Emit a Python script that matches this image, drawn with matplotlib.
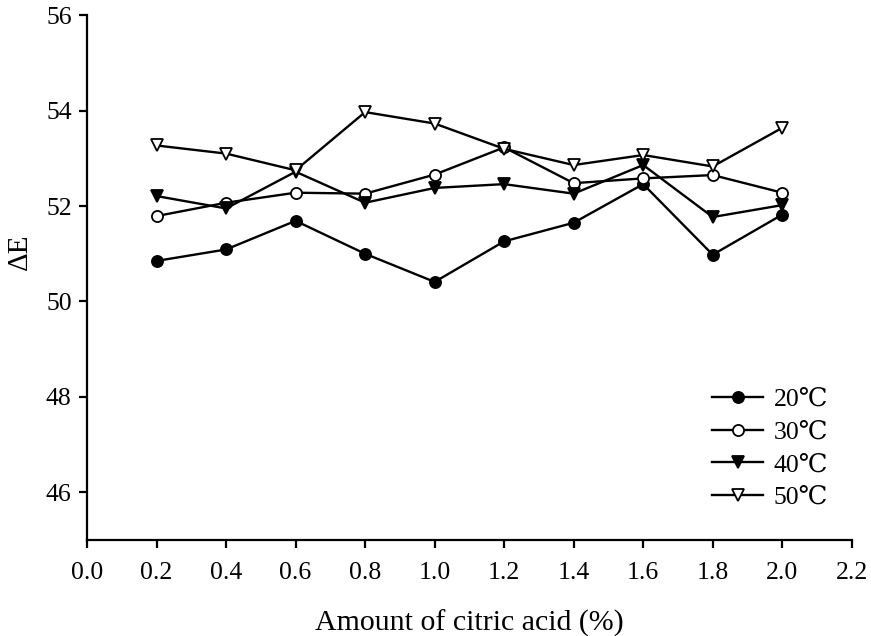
import matplotlib
matplotlib.use("Agg")
import matplotlib.pyplot as plt

plt.rcParams['font.family'] = ['Liberation Serif', 'DejaVu Serif', 'Noto Sans CJK SC']

# citric acid dosage (%) and colour difference at each temperature
acid = [0.2, 0.4, 0.6, 0.8, 1.0, 1.2, 1.4, 1.6, 1.8, 2.0]
de_20 = [50.85, 51.09, 51.69, 51.00, 50.41, 51.26, 51.65, 52.46, 50.98, 51.82]
de_30 = [51.79, 52.07, 52.28, 52.26, 52.66, 53.23, 52.48, 52.58, 52.65, 52.28]
de_40 = [52.21, 51.95, 52.72, 52.07, 52.38, 52.46, 52.26, 52.86, 51.77, 52.02]
de_50 = [53.27, 53.10, 52.75, 53.97, 53.73, 53.20, 52.86, 53.07, 52.83, 53.64]

labels = ['20\u2103', '30\u2103', '40\u2103', '50\u2103']
xticks = [0.0, 0.2, 0.4, 0.6, 0.8, 1.0, 1.2, 1.4, 1.6, 1.8, 2.0, 2.2]
yticks = [46, 48, 50, 52, 54, 56]

fig = plt.figure(figsize=(8.71, 6.36), dpi=100)
ax = fig.add_axes([0.0999, 0.151, 0.878, 0.825])

series = [de_20, de_30, de_40, de_50]
markers = ['o', 'o', 'v', 'v']
faces = ['black', 'white', 'black', 'white']
for vals, m, fc, lab in zip(series, markers, faces, labels):
    ax.plot(acid, vals, color='black', lw=1.7, marker=m, ms=8,
            mfc=fc, mec='black', mew=1.3, label=lab)

ax.set_xlim(0, 2.2)
ax.set_ylim(45, 56)
ax.set_xticks(xticks)
ax.set_xticklabels(['%.1f' % t for t in xticks])
ax.set_yticks(yticks)
ax.spines['top'].set_visible(False)
ax.spines['right'].set_visible(False)
ax.spines['left'].set_linewidth(1.6)
ax.spines['bottom'].set_linewidth(1.6)
ax.tick_params(direction='out', length=6, width=1.6, labelsize=18.5)
ax.tick_params(axis='x', pad=10)
ax.tick_params(axis='y', pad=5)

ax.set_xlabel('Amount of citric acid (%)', fontsize=21.5)
ax.xaxis.set_label_coords(0.5, -0.133)
ax.set_ylabel('\u0394E', fontsize=21)
ax.yaxis.set_label_coords(-0.071, 0.55)

ax.legend(loc='center', bbox_to_anchor=(0.884, 0.295),
          bbox_transform=fig.transFigure, frameon=False,
          fontsize=18.5, handlelength=2.0, labelspacing=0.38, handletextpad=0.4)

fig.savefig('out.png', dpi=100)
